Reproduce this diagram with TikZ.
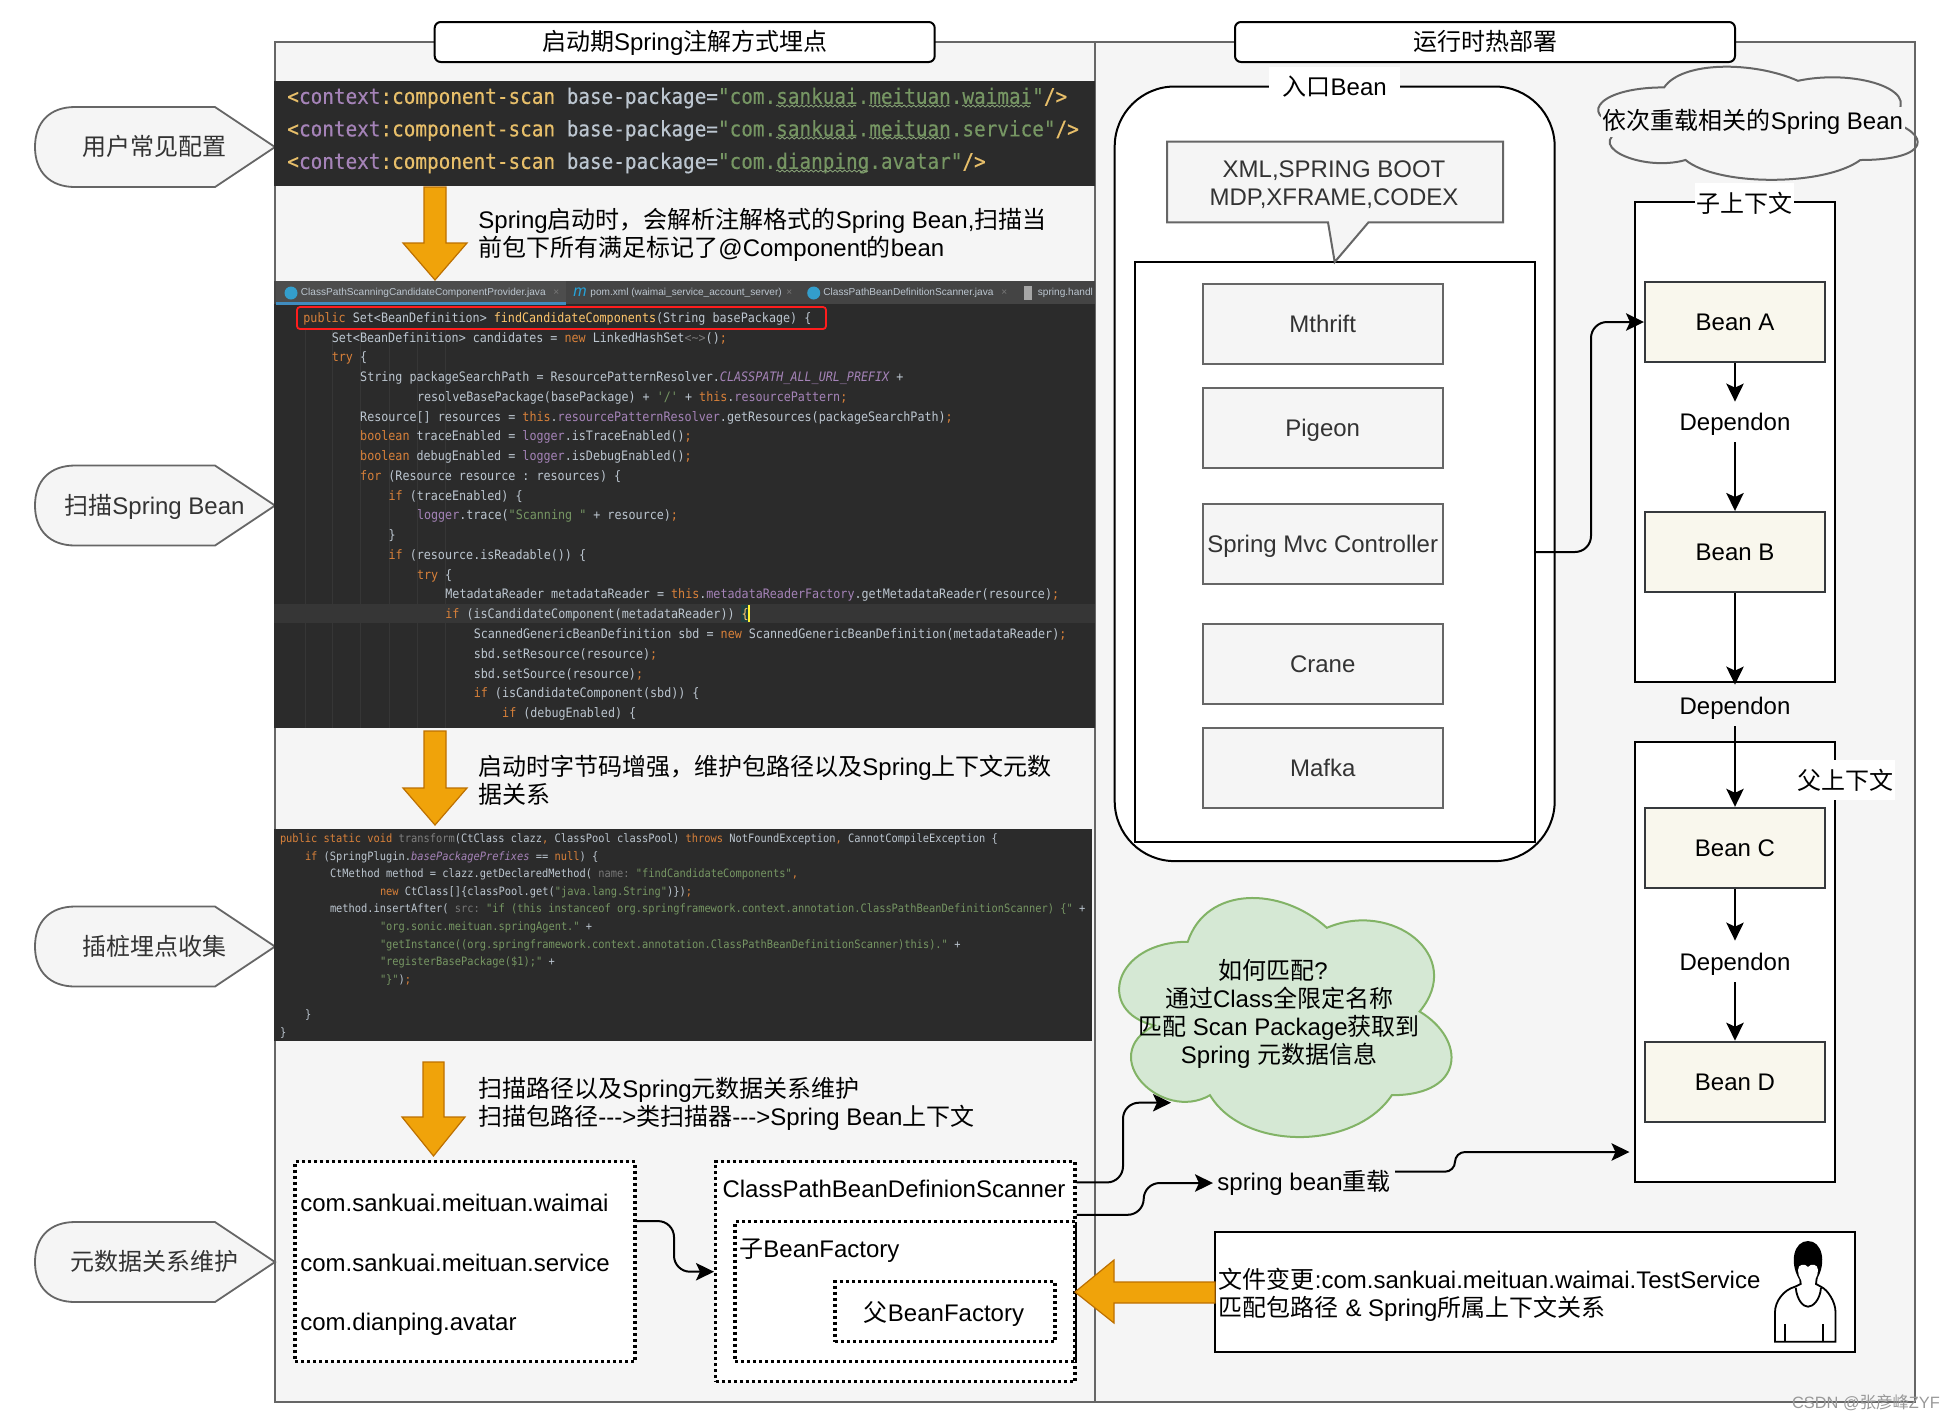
\documentclass[tikz,border=0pt]{standalone}
\usepackage{fontspec}
\setmainfont{Liberation Sans}
\newfontfamily\cjk{Noto Sans CJK SC}
\newfontfamily\codefont{DejaVu Sans Mono}[FakeStretch=0.9]
\newfontfamily\bandfont{DejaVu Sans Mono}[FakeStretch=0.9,FakeBold=0.4]
\usetikzlibrary{arrows.meta,calc,decorations.pathmorphing}
\newcommand{\zh}[1]{{\cjk #1}}
\definecolor{panelfill}{HTML}{F5F5F5}
\definecolor{panelline}{HTML}{666666}
\definecolor{graytext}{HTML}{333333}
\definecolor{beanfill}{HTML}{F9F7ED}
\definecolor{beanline}{HTML}{36393D}
\definecolor{blockfill}{HTML}{F0A30A}
\definecolor{blockline}{HTML}{BD7000}
\definecolor{greenfill}{HTML}{D5E8D4}
\definecolor{greenline}{HTML}{82B366}
\definecolor{codeback}{HTML}{2B2B2B}
\definecolor{codebase}{HTML}{BCC6D0}
\definecolor{codekw}{HTML}{D9813A}
\definecolor{codefield}{HTML}{A583B8}
\definecolor{codestr}{HTML}{769663}
\definecolor{codetag}{HTML}{E8BF6A}
\definecolor{codemeth}{HTML}{FFC66D}
\definecolor{codehint}{HTML}{787878}
\newcommand{\ck}[1]{\textcolor{codekw}{#1}}
\newcommand{\cf}[1]{\textcolor{codefield}{#1}}
\newcommand{\cs}[1]{\textcolor{codestr}{#1}}
\newcommand{\ch}[1]{\textcolor{codehint}{#1}}
\def\scanhead{\textcolor{codetag}{<}\cf{context}\textcolor{codetag}{:component-scan} base-package=}
\def\sidetag(#1)(#2)#3{
	\draw[tagline,shift={(0,#1)}] (215,-40) -- (275,0) -- (215,40) -- (75,40) .. controls (50,40) and (35,25) .. (35,0) .. controls (35,-25) and (50,-40) .. (75,-40) -- cycle;
	\node[centerline,text=graytext] (#2) at (154.5,#1) {#3};
}
\def\cloudshape[#1](#2,#3)(#4,#5){
	\draw[#1] ({#2+0.25*#4},{#3+0.25*#5})
	.. controls ({#2+0.05*#4},{#3+0.25*#5}) and ({#2},{#3+0.5*#5}) .. ({#2+0.16*#4},{#3+0.55*#5})
	.. controls ({#2},{#3+0.66*#5}) and ({#2+0.18*#4},{#3+0.9*#5}) .. ({#2+0.31*#4},{#3+0.8*#5})
	.. controls ({#2+0.4*#4},{#3+#5}) and ({#2+0.7*#4},{#3+#5}) .. ({#2+0.8*#4},{#3+0.8*#5})
	.. controls ({#2+#4},{#3+0.8*#5}) and ({#2+#4},{#3+0.6*#5}) .. ({#2+0.875*#4},{#3+0.5*#5})
	.. controls ({#2+#4},{#3+0.3*#5}) and ({#2+0.8*#4},{#3+0.1*#5}) .. ({#2+0.625*#4},{#3+0.2*#5})
	.. controls ({#2+0.5*#4},{#3+0.05*#5}) and ({#2+0.3*#4},{#3+0.05*#5}) .. cycle;
}
\tikzset{
	centerline/.style={text height=11.5pt,text depth=3pt,inner ysep=0pt},
	panel/.style={draw=panelline,fill=panelfill,line width=1pt},
	tagline/.style={draw=panelline,fill=panelfill,line width=0.9pt},
	titlebox/.style={centerline,draw,fill=white,line width=1pt,rounded corners=3pt,minimum width=250pt,minimum height=20pt},
	graybox/.style={centerline,draw=panelline,fill=panelfill,line width=1pt,text=graytext,inner sep=0pt,minimum width=120pt,minimum height=40pt},
	beanbox/.style={centerline,draw=beanline,fill=beanfill,line width=1pt,minimum width=90pt,minimum height=40pt},
	framebox/.style={draw,fill=white,line width=1pt},
	dotbox/.style={draw,fill=white,line width=1.6pt,dash pattern=on 1.5pt off 1.5pt},
	whitelabel/.style={fill=white,minimum height=20pt,inner sep=0pt},
	dependnode/.style={centerline,inner sep=0pt},
	blockarrow/.style={draw=blockline,fill=blockfill,line width=0.6pt},
	flowline/.style={line width=1pt,rounded corners=8pt,-{Stealth[length=9pt,width=8.7pt,inset=2pt]}},
	plainlabel/.style={anchor=west,align=left,inner sep=0pt},
	bandline/.style={anchor=west,inner sep=0pt,text=codebase,font=\bandfont\frenchspacing\fontsize{10.74pt}{12pt}\selectfont},
	scanline/.style={anchor=west,inner sep=0pt,text=codebase,font=\codefont\frenchspacing\fontsize{6.51pt}{8pt}\selectfont},
	agentline/.style={anchor=west,inner sep=0pt,text=codebase,font=\codefont\frenchspacing\fontsize{5.76pt}{7pt}\selectfont},
	tablabel/.style={anchor=west,inner sep=0pt,text=codebase,font=\fontsize{5.05pt}{6pt}\selectfont},
	closemark/.style={anchor=west,inner sep=0pt,text=codehint,font=\fontsize{5.05pt}{6pt}\selectfont},
	squiggle/.style={draw=codestr!85!white,line width=0.4pt,decorate,decoration={snake,amplitude=0.5pt,segment length=2.4pt}}
}

\begin{document}
\begin{tikzpicture}[x=0.5pt,y=-0.5pt,font=\fontsize{12pt}{14pt}\selectfont]
	\useasboundingbox (0,0) rectangle (1956,1421);
	%%%%% PANELS %%%%%
	\draw[panel] (274.5,42) rectangle (1095,1402);
	\draw[panel] (1095,42) rectangle (1915,1402);
	\node[titlebox] (titleStart) at (684.7,42) {\zh{启动期}Spring\zh{注解方式埋点}};
	\node[titlebox] (titleRun) at (1485,42) {\zh{运行时热部署}};
	
	\sidetag(147)(tagConfig){\zh{用户常见配置}}
	\sidetag(505.5)(tagScan){\zh{扫描}Spring Bean}
	\sidetag(946.5)(tagAgent){\zh{插桩埋点收集}}
	\sidetag(1262)(tagMeta){\zh{元数据关系维护}}
	
	%%%%% CONFIG BAND %%%%%
	\fill[codeback] (274,81) rectangle (1095,186);
	\node[bandline] (bandA) at (287,98) {\scanhead\cs{"com.sankuai.meituan.waimai"}\textcolor{codetag}{/>}};
	\node[bandline] (bandB) at (287,130.5) {\scanhead\cs{"com.sankuai.meituan.service"}\textcolor{codetag}{/>}};
	\node[bandline] (bandC) at (287,163) {\scanhead\cs{"com.dianping.avatar"}\textcolor{codetag}{/>}};
	\foreach \xa/\xb/\ya in {776/856/106,869/950/106,962/1030/106,776/856/138,869/950/138,776/868/171}
		\draw[squiggle] (\xa,\ya) -- (\xb,\ya);
	
	\draw[blockarrow] (424,187) -- (446,187) -- (446,243) -- (467,243) -- (435,280) -- (403,243) -- (424,243) -- cycle;
	\node[plainlabel] (noteScan) at (478,234.5) {Spring\zh{启动时，会解析注解格式的}Spring Bean,\zh{扫描当}\\\zh{前包下所有满足标记了}@Component\zh{的}bean};
	
	%%%%% SCANNER SCREENSHOT %%%%%
	\fill[codeback] (274,281) rectangle (1095,728);
	\fill[codeback!70!gray] (274,281) rectangle (1095,304);
	\fill[codeback!60!gray] (276,281) rectangle (566,304);
	\fill[blue!40!cyan!50!gray] (276,302) rectangle (566,305);
	\foreach \ix in {305,332,360,389,417,445}
		\draw[codeback!95!white,line width=0.4pt] (\ix,330) -- (\ix,728);
	\fill[white!5!codeback] (274,604) rectangle (1095,622.5);
	\fill[teal!25!codeback] (741,604.5) rectangle (748,622);
	\draw[yellow!80!white,line width=0.6pt] (749,604.5) -- (749,622);
	
	\fill[blue!30!cyan!60!gray] (291,293) circle (6.5);
	\node[tablabel] (tabScan) at (300.5,293) {ClassPathScanningCandidateComponentProvider.java};
	\node[closemark] (closeScan) at (553,293) {×};
	\node[anchor=center,inner sep=0pt,text=blue!30!cyan!70!gray,font=\fontsize{8pt}{8pt}\selectfont\itshape] (iconPom) at (580,292) {m};
	\node[tablabel] (tabPom) at (590,293) {pom.xml (waimai\_service\_account\_server)};
	\node[closemark] (closePom) at (786,293) {×};
	\fill[blue!30!cyan!60!gray] (813.7,293) circle (6.5);
	\node[tablabel] (tabBean) at (823,293) {ClassPathBeanDefinitionScanner.java};
	\node[closemark] (closeBean) at (1001,293) {×};
	\fill[gray!70!white] (1024,286) rectangle (1032,300);
	\node[tablabel] (tabSpring) at (1037.5,293) {spring.handl};
	
	\draw[red!85!pink,line width=0.9pt,rounded corners=1.5pt] (297,307) rectangle (826,329);
	\foreach \lineNo/\lvl/\txt in {
		0/0/{\ck{public} Set<BeanDefinition> \textcolor{codemeth}{findCandidateComponents}(String basePackage) \{},
		1/1/{Set<BeanDefinition> candidates = \ck{new} LinkedHashSet\ch{<\textasciitilde>}()\ck{;}},
		2/1/{\ck{try} \{},
		3/2/{String packageSearchPath = ResourcePatternResolver.\cf{\itshape CLASSPATH\_ALL\_URL\_PREFIX} +},
		4/4/{resolveBasePackage(basePackage) + \cs{'/'} + \ck{this}.\cf{resourcePattern}\ck{;}},
		5/2/{Resource[] resources = \ck{this}.\cf{resourcePatternResolver}.getResources(packageSearchPath)\ck{;}},
		6/2/{\ck{boolean} traceEnabled = \cf{logger}.isTraceEnabled()\ck{;}},
		7/2/{\ck{boolean} debugEnabled = \cf{logger}.isDebugEnabled()\ck{;}},
		8/2/{\ck{for} (Resource resource : resources) \{},
		9/3/{\ck{if} (traceEnabled) \{},
		10/4/{\cf{logger}.trace(\cs{"Scanning "} + resource)\ck{;}},
		11/3/{\}},
		12/3/{\ck{if} (resource.isReadable()) \{},
		13/4/{\ck{try} \{},
		14/5/{MetadataReader metadataReader = \ck{this}.\cf{metadataReaderFactory}.getMetadataReader(resource)\ck{;}},
		15/5/{\ck{if} (isCandidateComponent(metadataReader)) \textcolor{codemeth}{\{}},
		16/6/{ScannedGenericBeanDefinition sbd = \ck{new} ScannedGenericBeanDefinition(metadataReader)\ck{;}},
		17/6/{sbd.setResource(resource)\ck{;}},
		18/6/{sbd.setSource(resource)\ck{;}},
		19/6/{\ck{if} (isCandidateComponent(sbd)) \{},
		20/7/{\ck{if} (debugEnabled) \{}}
		\node[scanline] (scan\lineNo) at ({303+28.4*\lvl},{318.7+19.75*\lineNo}) {\txt};
	
	\draw[blockarrow] (424,731) -- (446,731) -- (446,788) -- (467,788) -- (435,825) -- (403,788) -- (424,788) -- cycle;
	\node[plainlabel] (noteAgent) at (478,780) {\zh{启动时字节码增强，维护包路径以及}Spring\zh{上下文元数}\\\zh{据关系}};
	
	%%%%% AGENT SCREENSHOT %%%%%
	\fill[codeback] (274,829) rectangle (1092,1040.7);
	\foreach \lineNo/\lvl/\txt in {
		0/0/{\ck{public static void} \textcolor{gray}{transform}(CtClass clazz\ck{,} ClassPool classPool) \ck{throws} NotFoundException\ck{,} CannotCompileException \{},
		1/1/{\ck{if} (SpringPlugin.\cf{\itshape basePackagePrefixes} == \ck{null}) \{},
		2/2/{CtMethod method = clazz.getDeclaredMethod( \ch{name:} \cs{"findCandidateComponents"}\ck{,}},
		3/4/{\ck{new} CtClass[]\{classPool.get(\cs{"java.lang.String"})\})\ck{;}},
		4/2/{method.insertAfter( \ch{src:} \cs{"if (this instanceof org.springframework.context.annotation.ClassPathBeanDefinitionScanner) \{"} +},
		5/4/{\cs{"org.sonic.meituan.springAgent."} +},
		6/4/{\cs{"getInstance((org.springframework.context.annotation.ClassPathBeanDefinitionScanner)this)."} +},
		7/4/{\cs{"registerBasePackage(\$1);"} +},
		8/4/{\cs{"\}"})\ck{;}},
		10/1/{\}},
		11/0/{\}}}
		\node[agentline] (agent\lineNo) at ({279.6+25*\lvl},{839.3+17.6*\lineNo}) {\txt};
	
	\draw[blockarrow] (423,1062) -- (444,1062) -- (444,1117) -- (465,1117) -- (433.5,1156) -- (402,1117) -- (423,1117) -- cycle;
	\node[plainlabel] (noteMeta) at (478,1103.7) {\zh{扫描路径以及}Spring\zh{元数据关系维护}\\\zh{扫描包路径}\mbox{-}\mbox{-}\mbox{-}>\zh{类扫描器}\mbox{-}\mbox{-}\mbox{-}>Spring Bean\zh{上下文}};
	
	%%%%% BEAN FACTORIES %%%%%
	\node[dotbox,minimum width=170pt,minimum height=100pt] (boxPackages) at (465,1261.7) {};
	\node[plainlabel] (pkgWaimai) at (300,1203) {com.sankuai.meituan.waimai};
	\node[plainlabel] (pkgService) at (300,1263) {com.sankuai.meituan.service};
	\node[plainlabel] (pkgAvatar) at (300,1324) {com.dianping.avatar};
	\node[dotbox,minimum width=179.7pt,minimum height=110pt] (boxScanner) at (895.3,1271.7) {};
	\node[inner sep=0pt] (scannerText) at (894,1189) {ClassPathBeanDefinionScanner};
	\node[dotbox,minimum width=170pt,minimum height=70pt] (boxChild) at (905,1291.7) {};
	\node[plainlabel] (childText) at (739,1251) {\zh{子}BeanFactory};
	\node[dotbox,minimum width=110pt,minimum height=30pt] (boxParent) at (945,1311.7) {};
	\node[inner sep=0pt] (parentText) at (944,1314) {\zh{父}BeanFactory};
	
	\coordinate (packagesOut) at ($(boxPackages.north east)!0.3!(boxPackages.south east)$);
	\coordinate (packagesMid) at (674,1271.7);
	\draw[flowline] (packagesOut) -| (packagesMid) -- (boxScanner.west);
	
	%%%%% ENTRY BEANS %%%%%
	\node[framebox,rounded corners=30pt,minimum width=220pt,minimum height=387.3pt] (entryBox) at (1334.7,473.8) {};
	\node[whitelabel,minimum width=65.5pt] (entryLabel) at (1334.7,86.7) {\zh{入口}Bean};
	\node[framebox,minimum width=200pt,minimum height=290pt] (innerBox) at (1335,552) {};
	\draw[panel] (1167,141.7) -- (1503,141.7) -- (1503,222.3) -- (1368.5,222.3) -- (1334.7,262) -- (1328,222.3) -- (1167,222.3) -- cycle;
	\node[align=center,text=graytext,inner sep=0pt] (entryKinds) at (1334,184.5) {XML,SPRING BOOT\\MDP,XFRAME,CODEX};
	\node[graybox] (mthrift) at (1322.7,324) {Mthrift};
	\node[graybox] (pigeon) at (1322.7,428) {Pigeon};
	\node[graybox] (mvc) at (1322.7,544) {Spring Mvc Controller};
	\node[graybox] (crane) at (1322.7,664.3) {Crane};
	\node[graybox] (mafka) at (1322.7,767.7) {Mafka};
	
	%%%%% CONTEXTS %%%%%
	\cloudshape[draw=panelline,line width=1pt](1575,54.4)(356.6,132)
	\node[fill=panelfill,inner sep=1pt] (reloadCloud) at (1753,122) {\zh{依次重载相关的}Spring Bean};
	
	\node[framebox,minimum width=99.85pt,minimum height=240pt] (childContext) at (1734.85,441.7) {};
	\node[whitelabel,minimum width=49.5pt] (childLabel) at (1744,203) {\zh{子上下文}};
	\node[framebox,minimum width=99.85pt,minimum height=220pt] (parentContext) at (1734.85,961.7) {};
	\node[whitelabel,minimum width=49pt] (parentLabel) at (1845.8,780) {\zh{父上下文}};
	
	\node[beanbox] (beanA) at (1735,322) {Bean A};
	\node[dependnode,minimum height=20pt] (dependA) at (1735,422) {Dependon};
	\node[beanbox] (beanB) at (1735,552) {Bean B};
	\node[dependnode,minimum height=20.5pt] (dependB) at (1735,705.5) {Dependon};
	\node[beanbox] (beanC) at (1735,847.8) {Bean C};
	\node[dependnode,minimum height=20.5pt] (dependC) at (1735,961.5) {Dependon};
	\node[beanbox] (beanD) at (1735,1081.7) {Bean D};
	
	\draw[flowline] (beanA) -- (dependA);
	\draw[flowline] (dependA) -- (beanB);
	\draw[flowline] (beanB) -- (dependB);
	\draw[flowline] (dependB) -- (beanC);
	\draw[flowline] (beanC) -- (dependC);
	\draw[flowline] (dependC) -- (beanD);
	
	\coordinate (entryMid) at (1591,322);
	\draw[flowline] (innerBox.east) -| (entryMid) -- (beanA.west);
	
	%%%%% MATCHING %%%%%
	\cloudshape[draw=greenline,fill=greenfill,line width=1pt](1095,872)(371,279)
	\node[align=center,inner sep=0pt] (matchCloud) at (1279,1014) {\zh{如何匹配}?\hspace*{6pt}\\\zh{通过}Class\zh{全限定名称}\\\zh{匹配} Scan Package\zh{获取到}\\Spring \zh{元数据信息}};
	
	\coordinate (scannerOutA) at ($(boxScanner.north east)!0.1!(boxScanner.south east)$);
	\coordinate (scannerOutB) at ($(boxScanner.north east)!0.245!(boxScanner.south east)$);
	\coordinate (cloudMid) at (1123,1102.7);
	\coordinate (cloudIn) at (1171,1102.7);
	\draw[flowline] (scannerOutA) -| (cloudMid) -- (cloudIn);
	
	\node[anchor=west,inner sep=2pt] (reloadLabel) at (1213,1183) {spring bean\zh{重载}};
	\coordinate (reloadMid) at (1143.7,1183);
	\draw[flowline] (scannerOutB) -| (reloadMid) -- (reloadLabel.west);
	\coordinate (reloadOut) at (1395,1171.7);
	\coordinate (contextMid) at (1455,1152);
	\coordinate (contextIn) at (1629.5,1152);
	\draw[flowline,rounded corners=5pt] (reloadOut) -| (contextMid) -- (contextIn);
	
	%%%%% FILE CHANGE %%%%%
	\node[framebox,minimum width=320.2pt,minimum height=60pt] (changeBox) at (1534.8,1291.7) {};
	\node[plainlabel] (changeText) at (1218.5,1294.5) {\zh{文件变更}:com.sankuai.meituan.waimai.TestService\\\zh{匹配包路径} \& Spring\zh{所属上下文关系}};
	\draw[blockarrow] (1215,1282) -- (1114,1282) -- (1114,1260) -- (1075,1292) -- (1114,1323) -- (1114,1303) -- (1215,1303) -- cycle;
	
	\draw[line width=0.9pt,fill=white] (1800,1278) -- (1800.7,1284) -- (1795,1286.7) .. controls (1783,1290) and (1775,1302) .. (1775,1312) -- (1775,1341.7) -- (1835.5,1341.7) -- (1835.5,1312) .. controls (1835.5,1302) and (1828,1290) .. (1821,1286.7) -- (1816,1284) -- (1816.7,1278);
	\fill[black] (1799,1279) .. controls (1789,1262) and (1794,1241) .. (1808,1241) .. controls (1822,1241) and (1827,1262) .. (1817,1279) -- cycle;
	\fill[white] (1798,1270) .. controls (1798,1264) and (1805,1263) .. (1808,1267) .. controls (1811,1263) and (1818,1264) .. (1818,1270) .. controls (1818,1277) and (1814,1283) .. (1808,1285) .. controls (1802,1283) and (1798,1277) .. cycle;
	\draw[line width=0.9pt] (1795.7,1287.7) .. controls (1797,1300) and (1803,1306.7) .. (1808,1306.7) .. controls (1813,1306.7) and (1820,1300) .. (1821,1287.7);
	\draw[line width=0.9pt] (1785,1324.3) -- (1785,1341.7) (1822.7,1324.3) -- (1822.7,1341.7);
	
	\node[text=gray!80!white,inner sep=0pt,font=\fontsize{8.2pt}{10pt}\selectfont] (csdnMark) at (1866,1403) {CSDN @\zh{张彦峰}ZYF};
\end{tikzpicture}
\end{document}
